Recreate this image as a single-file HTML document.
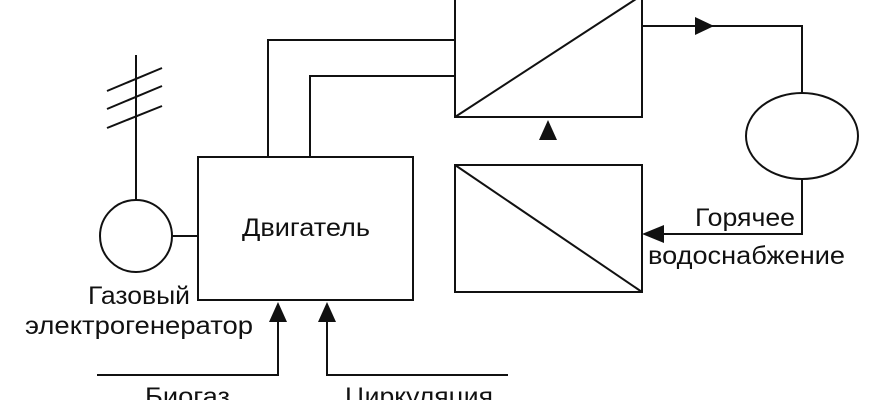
<!DOCTYPE html>
<html><head><meta charset="utf-8"><style>
html,body{margin:0;padding:0;background:#fff;}
svg{display:block;}
text{font-family:"Liberation Sans",sans-serif;fill:#111;font-size:25px;}
</style></head><body>
<svg width="870" height="400" viewBox="0 0 870 400" xmlns="http://www.w3.org/2000/svg">
<g stroke="#111" stroke-width="2" fill="none">
<line x1="136" y1="55" x2="136" y2="200"/>
<line x1="107" y1="91" x2="162" y2="68"/>
<line x1="107" y1="109" x2="162" y2="86"/>
<line x1="107" y1="128" x2="162" y2="106"/>
<circle cx="136" cy="236" r="36"/>
<line x1="172" y1="236" x2="198" y2="236"/>
<rect x="198" y="157" width="215" height="143"/>
<polyline points="268,157 268,40 455,40"/>
<polyline points="310,157 310,76 455,76"/>
<polyline points="97,375 278,375 278,318"/>
<polyline points="508,375 327,375 327,318"/>
<rect x="455" y="-3" width="187" height="120"/>
<line x1="455" y1="117" x2="636" y2="-1"/>
<rect x="455" y="165" width="187" height="127"/>
<line x1="455" y1="165" x2="642" y2="292"/>
<polyline points="642,26 802,26 802,93"/>
<ellipse cx="802" cy="136" rx="56" ry="43"/>
<polyline points="802,179 802,234 660,234"/>
</g>
<g fill="#111">
<polygon points="278,302 269,322 287,322"/>
<polygon points="327,302 318,322 336,322"/>
<polygon points="548,120 539,140 557,140"/>
<polygon points="714,26 695,17 695,35"/>
<polygon points="642,234 664,225 664,243"/>
</g>
<text x="242" y="236" textLength="128" lengthAdjust="spacingAndGlyphs">Двигатель</text>
<text x="88" y="304" textLength="102" lengthAdjust="spacingAndGlyphs">Газовый</text>
<text x="25" y="334" textLength="228" lengthAdjust="spacingAndGlyphs">электрогенератор</text>
<text x="145" y="405" textLength="85" lengthAdjust="spacingAndGlyphs">Биогаз</text>
<text x="345" y="405" textLength="148" lengthAdjust="spacingAndGlyphs">Циркуляция</text>
<text x="695" y="226" textLength="100" lengthAdjust="spacingAndGlyphs">Горячее</text>
<text x="648" y="264" textLength="197" lengthAdjust="spacingAndGlyphs">водоснабжение</text>
</svg>
</body></html>
